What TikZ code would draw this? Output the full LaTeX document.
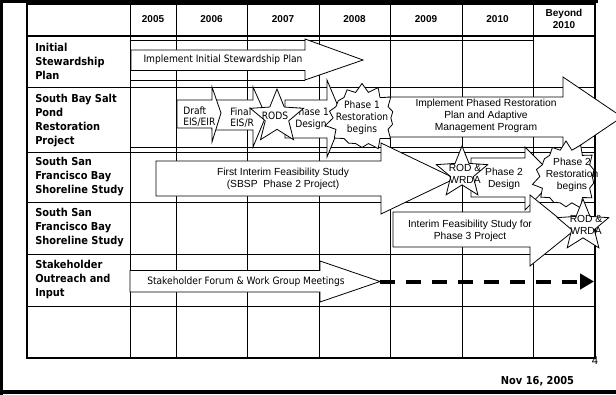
\documentclass[tikz,border=0pt]{standalone}
\usepackage{fontspec}
\usetikzlibrary{arrows.meta}
\newfontfamily\tah[FakeStretch=0.9]{DejaVu Sans}
\newfontfamily\ari{Liberation Sans}
% right arrow: x0, x head back, x tip, y tip, body top, body bottom, head top, head bottom
\newcommand{\rarrow}[8]{\draw[shp] (#1,#5) -- (#2,#5) -- (#2,#7) -- (#3,#4) -- (#2,#8) -- (#2,#6) -- (#1,#6) -- cycle;}
% star polygon: cx, cy, rx, ry, inner ratio, last index, angle step, irregularity
\newcommand{\polystar}[8]{\draw[shp] plot[samples at={0,...,#6}, variable=\k]
  ({#1+((1-mod(\k,2))*(1-#8+#8*cos(\k*137))+mod(\k,2)*#5)*#3*cos(90+\k*#7)},
   {#2-((1-mod(\k,2))*(1-#8+#8*cos(\k*137))+mod(\k,2)*#5)*#4*sin(90+\k*#7)}) -- cycle;}
\begin{document}
\begin{tikzpicture}[x=0.75pt,y=-0.75pt,
  gridl/.style={line width=0.7pt},
  tborder/.style={line width=1.4pt},
  framel/.style={line width=2.5pt},
  shp/.style={draw, fill=white, line width=0.6pt, line join=miter},
  rowhead/.style={font={\tah\bfseries\fontsize{8.2}{10.5}\selectfont}, align=left, anchor=west, inner sep=0},
  yr/.style={font={\ari\bfseries\fontsize{7.5}{9}\selectfont}, align=center, inner sep=0},
  tlab/.style={font={\tah\fontsize{7.6}{9}\selectfont}, align=center, inner sep=0},
  tlabl/.style={font={\tah\fontsize{7.6}{8.2}\selectfont}, align=left, anchor=west, inner sep=0},
  alab/.style={font={\ari\fontsize{7.7}{9}\selectfont}, align=center, inner sep=0}]
\useasboundingbox (0,0) rectangle (616,395);
\clip (0,0) rectangle (616,395);
% frame
\draw[framel] (1.5,0) -- (1.5,395);
\draw[framel] (0,1.5) -- (598,1.5);
\draw[framel] (0,392) -- (616,392);
% table grid
\foreach \x in {130,176,247,319,390,462,533} \draw[gridl] (\x,4) -- (\x,358);
\foreach \y in {87,152,202,254,306} \draw[gridl] (27,\y) -- (595,\y);
\draw[line width=1pt] (27,36) -- (595,36);
\draw[gridl] (130,40) -- (533,40);
\draw[gridl] (130,80) -- (305,80);
\draw[gridl] (130,147) -- (595,147);
\draw[tborder] (27,4) rectangle (595,358);
% headers
\node[yr] (y05) at (153,19.5) {2005};
\node[yr] (y06) at (211.5,19.5) {2006};
\node[yr] (y07) at (283,19.5) {2007};
\node[yr] (y08) at (354.5,19.5) {2008};
\node[yr] (y09) at (426,19.5) {2009};
\node[yr] (y10) at (497.5,19.5) {2010};
\node[yr] (ybe) at (564,19) {Beyond\\2010};
\node[rowhead] (h1) at (35,61) {Initial\\Stewardship\\Plan};
\node[rowhead] (h2) at (35,120.5) {South Bay Salt\\Pond\\Restoration\\Project};
\node[rowhead] (h3) at (35,176.5) {South San\\Francisco Bay\\Shoreline Study};
\node[rowhead] (h4) at (35,228) {South San\\Francisco Bay\\Shoreline Study};
\node[rowhead] (h5) at (35,279) {Stakeholder\\Outreach and\\Input};
% Initial stewardship arrow
\rarrow{131}{305}{363}{60}{50}{70.5}{39}{80}
\node[tlab] (tinit) at (223,60) {Implement Initial Stewardship Plan};
% Stakeholder arrow and dashed continuation
\rarrow{130}{320}{380}{281.5}{270.5}{292}{261}{302}
\node[tlab] (tstake) at (246,281.5) {Stakeholder Forum \& Work Group Meetings};
\coordinate (sktip) at (380,281.5);
\coordinate (skend) at (594,281.5);
\draw[line width=3pt, dash pattern=on 11pt off 8.5pt, -{Triangle[length=10.5pt,width=11.5pt]}] (sktip) -- (skend);
% First interim feasibility
\rarrow{156}{381}{455}{178.5}{161}{196}{143}{214}
\node[alab] (tfirst) at (283,179) {First Interim Feasibility Study\\(SBSP\ \ Phase 2 Project)};
% Final and Draft
\rarrow{212}{253}{266}{116}{100}{130}{87}{147}
\node[tlabl] (tfinal) at (230,117.5) {Final\\EIS/R};
\rarrow{177}{212}{221}{113}{100}{128}{87}{142}
\node[tlabl] (tdraft) at (183,117) {Draft\\EIS/EIR};
% Phase 1 design
\rarrow{285}{327}{343}{118}{100}{138}{80}{157}
\node[tlab] (tp1d) at (311,119) {Phase 1\\Design};
% RODS
\polystar{277}{117}{28}{28}{0.44}{9}{36}{0}
\node[tlab] (trods) at (275,116) {RODS};
% big arrow
\rarrow{388}{563}{622}{117}{97}{137}{77}{157}
\node[alab] (tbig) at (486,116) {Implement Phased Restoration\\Plan and Adaptive\\Management Program};
% Phase 1 burst
\polystar{362}{118}{38}{34.5}{0.76}{27}{12.857}{0.1}
\node[tlab] (tp1r) at (362,118) {Phase 1\\Restoration\\begins};
% Phase 2 design
\rarrow{471}{525}{556}{178}{158}{197}{147}{210}
\node[alab] (tp2d) at (504,179) {Phase 2\\Design};
% ROD & WRDA 1
\polystar{462}{173}{27}{27}{0.44}{9}{36}{0}
\node[alab] (trod1) at (465,173.5) {ROD \&\\WRDA};
% Phase 2 burst
\polystar{566}{176.5}{34.5}{35.5}{0.76}{27}{12.857}{0.1}
\node[alab] (tp2r) at (572,175) {Phase 2\\Restoration\\begins};
% Interim phase 3
\rarrow{393}{530}{574}{230.5}{212}{247}{195}{266}
\node[alab] (tint) at (470,231) {Interim Feasibility Study for\\Phase 3 Project};
% ROD & WRDA 2
\polystar{583}{226}{27}{27}{0.44}{9}{36}{0}
\node[alab] (trod2) at (586,224.5) {ROD \&\\WRDA};
% footer
\node[font={\ari\fontsize{8.5}{10}\selectfont}, inner sep=0] (pg) at (595,361) {4};
\node[font={\tah\bfseries\fontsize{8.2}{10}\selectfont}, inner sep=0] (date) at (537.5,381) {Nov 16, 2005};
\end{tikzpicture}
\end{document}
